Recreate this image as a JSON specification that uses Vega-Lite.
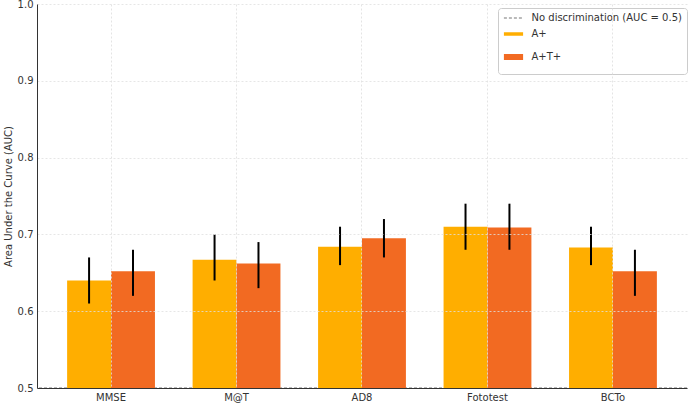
{
  "$schema": "https://vega.github.io/schema/vega-lite/v6.json",
  "width": 650,
  "height": 384,
  "autosize": "none",
  "padding": {"left": 37, "top": 4, "right": 1, "bottom": 15},
  "background": "white",
  "config": {
    "font": "DejaVu Sans",
    "view": {"stroke": null},
    "axis": {"labelFont": "DejaVu Sans", "titleFont": "DejaVu Sans", "labelColor": "#333333", "titleColor": "#333333"},
    "legend": {
      "title": null,
      "orient": "none",
      "legendX": 461,
      "legendY": 4,
      "labelFontSize": 10,
      "labelColor": "#333333",
      "symbolType": "M-4.8,0H4.8",
      "symbolSize": 16,
      "symbolOffset": 5.5,
      "labelOffset": 13,
      "rowPadding": 3,
      "padding": 5,
      "strokeColor": "#cccccc",
      "fillColor": "white",
      "cornerRadius": 3
    }
  },
  "data": {
    "values": [
      {"test": "MMSE", "group": "A+", "auc": 0.640, "lo": 0.61, "hi": 0.67},
      {"test": "MMSE", "group": "A+T+", "auc": 0.652, "lo": 0.62, "hi": 0.68},
      {"test": "M@T", "group": "A+", "auc": 0.667, "lo": 0.64, "hi": 0.70},
      {"test": "M@T", "group": "A+T+", "auc": 0.662, "lo": 0.63, "hi": 0.69},
      {"test": "AD8", "group": "A+", "auc": 0.684, "lo": 0.66, "hi": 0.71},
      {"test": "AD8", "group": "A+T+", "auc": 0.695, "lo": 0.67, "hi": 0.72},
      {"test": "Fototest", "group": "A+", "auc": 0.710, "lo": 0.68, "hi": 0.74},
      {"test": "Fototest", "group": "A+T+", "auc": 0.709, "lo": 0.68, "hi": 0.74},
      {"test": "BCTo", "group": "A+", "auc": 0.683, "lo": 0.66, "hi": 0.71},
      {"test": "BCTo", "group": "A+T+", "auc": 0.652, "lo": 0.62, "hi": 0.68}
    ]
  },
  "encoding": {
    "x": {
      "field": "test", "type": "nominal", "sort": null,
      "scale": {"paddingInner": 0.3, "paddingOuter": 0.24},
      "axis": {
        "title": null, "labelAngle": 0, "labelFontSize": 10, "labelPadding": 4,
        "ticks": false, "tickSize": 0, "domainColor": "#333333", "domainWidth": 1, "zindex": 1,
        "grid": true, "bandPosition": 0.5, "gridDash": [2, 2], "gridColor": "#dddddd", "gridWidth": 0.8
      }
    },
    "xOffset": {"field": "group", "type": "nominal", "scale": {"paddingInner": 0, "paddingOuter": 0}}
  },
  "layer": [
    {
      "data": {"values": [{"group": "No discrimination (AUC = 0.5)", "auc": 0.5}]},
      "mark": {"type": "rule"},
      "encoding": {
        "y": {"field": "auc", "type": "quantitative"},
        "x": null,
        "xOffset": null,
        "color": {
          "field": "group", "type": "nominal",
          "scale": {"domain": ["No discrimination (AUC = 0.5)", "A+", "A+T+"], "range": ["#777777", "#FFAE00", "#F26A22"]},
          "legend": {"values": ["No discrimination (AUC = 0.5)", "A+", "A+T+"]}
        },
        "strokeDash": {
          "field": "group", "type": "nominal",
          "scale": {"domain": ["No discrimination (AUC = 0.5)", "A+", "A+T+"], "range": [[3, 2], [1, 0], [1, 0]]},
          "legend": {"values": ["No discrimination (AUC = 0.5)", "A+", "A+T+"]}
        },
        "strokeWidth": {
          "field": "group", "type": "ordinal",
          "scale": {"domain": ["No discrimination (AUC = 0.5)", "A+", "A+T+"], "range": [1.2, 6, 6]},
          "legend": {"values": ["No discrimination (AUC = 0.5)", "A+", "A+T+"]}
        }
      }
    },
    {
      "mark": {"type": "bar"},
      "encoding": {
        "y": {
          "field": "auc", "type": "quantitative",
          "scale": {"domain": [0.5, 1.0], "zero": false, "nice": false},
          "axis": {
            "title": "Area Under the Curve (AUC)", "titleFontSize": 10, "titleFontWeight": "normal", "titlePadding": 4,
            "labelFontSize": 10, "format": ".1f", "values": [0.5, 0.6, 0.7, 0.8, 0.9, 1.0],
            "ticks": false, "tickSize": 0, "labelPadding": 4, "domainColor": "#333333", "zindex": 1,
            "grid": true, "gridDash": [2, 2], "gridColor": "#e0e0e0", "gridWidth": 0.8
          }
        },
        "y2": {"datum": 0.5},
        "color": {
          "field": "group", "type": "nominal",
          "legend": {"values": ["No discrimination (AUC = 0.5)", "A+", "A+T+"]}
        }
      }
    },
    {
      "mark": {"type": "rule", "color": "black", "strokeWidth": 2},
      "encoding": {
        "y": {"field": "lo", "type": "quantitative"},
        "y2": {"field": "hi"}
      }
    }
  ]
}
